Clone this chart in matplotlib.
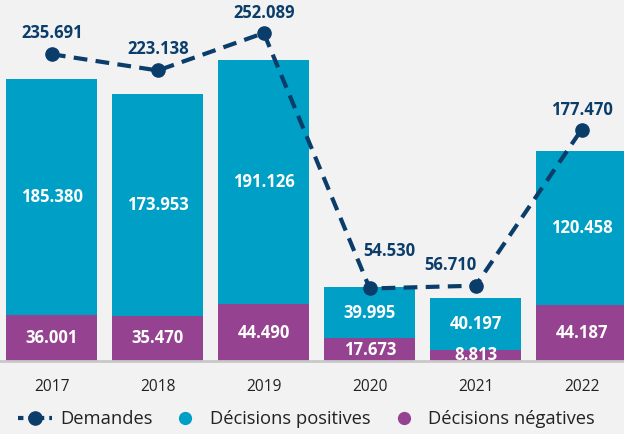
import matplotlib
matplotlib.use("Agg")
import matplotlib.pyplot as plt
from matplotlib.lines import Line2D

years = ["2017", "2018", "2019", "2020", "2021", "2022"]
negatives = [36001, 35470, 44490, 17673, 8813, 44187]
positives = [185380, 173953, 191126, 39995, 40197, 120458]
demandes = [235691, 223138, 252089, 54530, 56710, 177470]

def fmt(v):
    return f"{v:,}".replace(",", ".")

TEAL = "#009fc6"
PURPLE = "#954390"
NAVY = "#0b3d6b"
BG = "#f2f2f2"
FONT = "Open Sans"

fig = plt.figure(figsize=(6.24, 4.34), dpi=100, facecolor=BG)
ax = fig.add_axes([0, 73/434, 1, 361/434])
ax.set_facecolor(BG)
x = list(range(len(years)))
w = 0.86
ax.bar(x, negatives, width=w, color=PURPLE, zorder=2)
ax.bar(x, positives, width=w, bottom=negatives, color=TEAL, zorder=2)
ax.set_xlim(-0.49, 5.40)
ax.set_ylim(0, 282900)
for s in ax.spines.values():
    s.set_visible(False)
ax.axhline(0, color="#c8c8c8", lw=2, zorder=5, clip_on=False)
ax.set_yticks([])
ax.set_xticks(x)
ax.set_xticklabels(years, fontsize=11.2, color="#222222", family=FONT)
ax.tick_params(axis="x", length=0, pad=13)

for xi, n, p in zip(x, negatives, positives):
    ax.text(xi, n / 2, fmt(n), ha="center", va="center", color="white",
            fontsize=12, fontweight="bold", family=FONT, zorder=4)
    ax.text(xi, n + p / 2, fmt(p), ha="center", va="center", color="white",
            fontsize=12, fontweight="bold", family=FONT, zorder=4)

ax2 = ax.twinx()
ax2.set_position([0, 73/434, 1, 361/434])
ax2.set_ylim(-1550, 277650)
ax2.set_xlim(-0.49, 5.40)
ax2.axis("off")
ax2.plot(x, demandes, color=NAVY, lw=3, dashes=(3.3, 2.0), marker="o",
         markersize=9.5, zorder=6, clip_on=False)
offsets = [(0, 21), (0, 21), (0, 20), (20, 37), (-25, 21), (0, 20)]
for xi, d, (ox, oy) in zip(x, demandes, offsets):
    ax2.annotate(fmt(d), (xi, d), xytext=(ox * 0.72, oy * 0.72), textcoords="offset points",
                 ha="center", va="center", color=NAVY, fontsize=12,
                 fontweight="bold", family=FONT, annotation_clip=False, zorder=7)

handles = [
    Line2D([], [], color=NAVY, lw=3, dashes=(1.3, 1.2), marker="o", markersize=9.5),
    Line2D([], [], color=TEAL, lw=0, marker="o", markersize=8.5),
    Line2D([], [], color=PURPLE, lw=0, marker="o", markersize=8.5),
]
labels = ["Demandes", "Décisions positives", "Décisions négatives"]
fig.legend(handles, labels, loc="center", bbox_to_anchor=(0.491, 1 - 419/434),
           ncol=3, frameon=False, prop={"family": FONT, "size": 13.2},
           labelcolor="#222222", handlelength=1.9, columnspacing=0.85,
           handletextpad=0.4, handleheight=0.7)

fig.savefig("out.png", dpi=100, facecolor=BG)
